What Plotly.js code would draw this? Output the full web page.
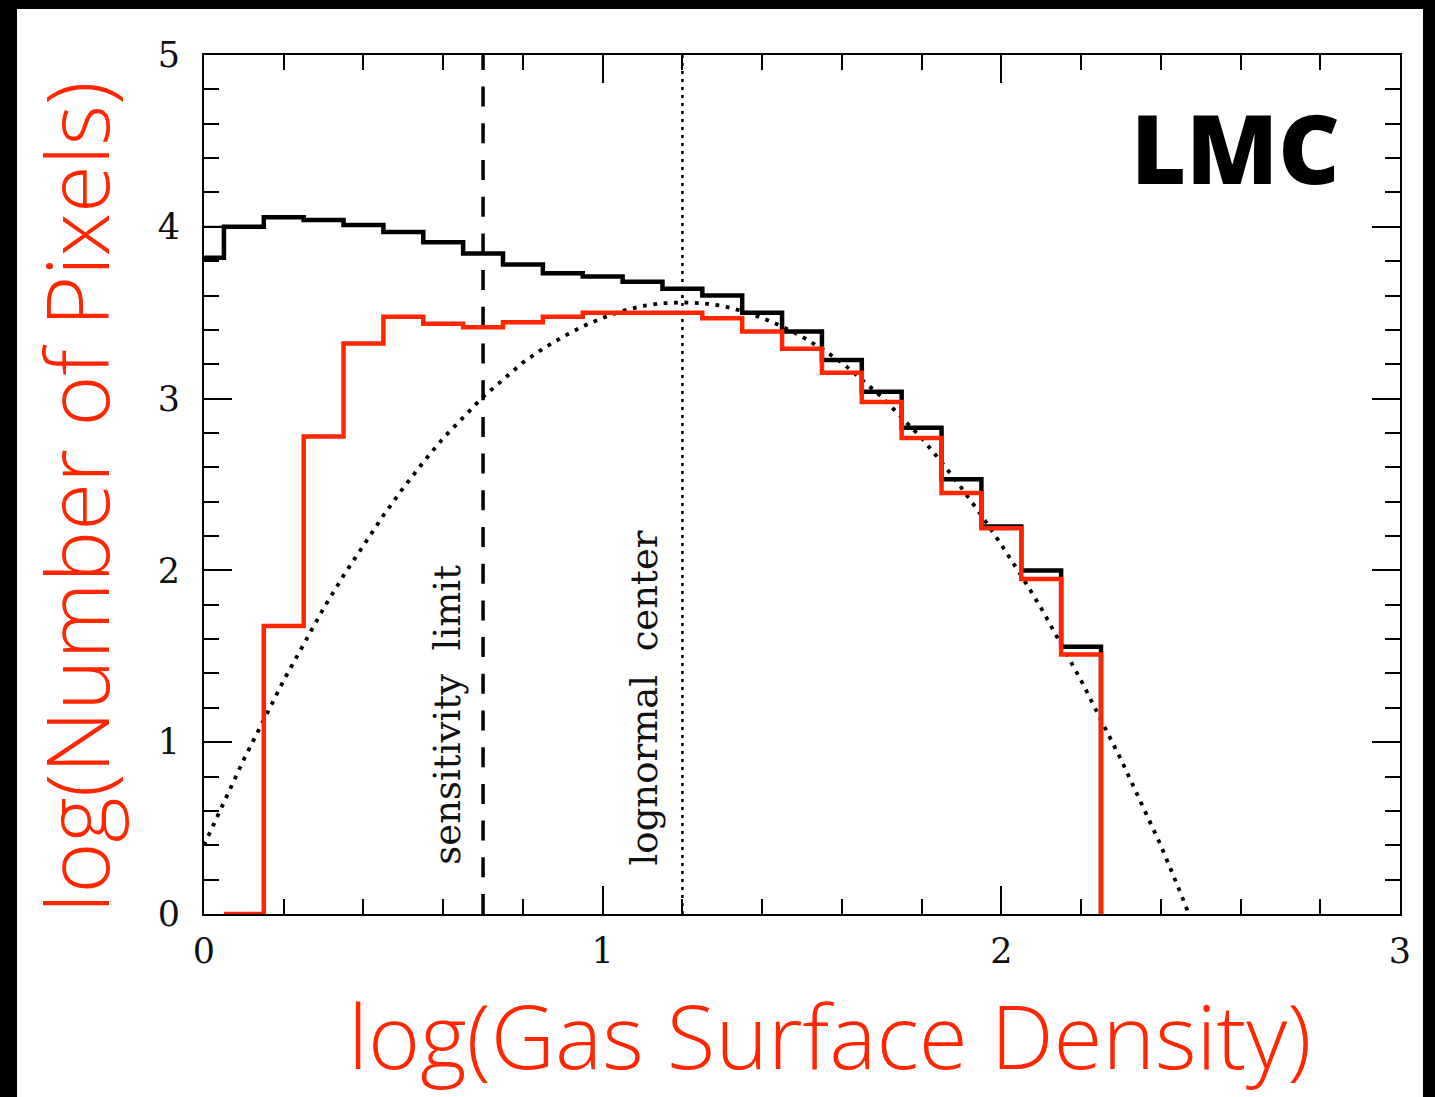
<!DOCTYPE html>
<html>
<head>
<meta charset="utf-8">
<script src="https://cdn.plot.ly/plotly-3.0.1.min.js"></script>
<style>
  html, body { margin: 0; padding: 0; background: #000; width: 1435px; height: 1097px; overflow: hidden; }
  #chart { position: absolute; left: 17px; top: 9px; width: 1406px; height: 1088px; background: #fff; }
</style>
</head>
<body>
<div id="chart"></div>
<script>
// Histogram bins: left edge of each bin, and the value (log number of pixels) in it
const allLeftEdges = [0, 0.05, 0.15, 0.25, 0.35, 0.45, 0.55, 0.65, 0.75, 0.85, 0.95, 1.05,
                      1.15, 1.25, 1.35, 1.45, 1.55, 1.65, 1.75, 1.85, 1.95, 2.05, 2.15];
const allPixels = [3.82, 4.00, 4.055, 4.04, 4.01, 3.97, 3.91, 3.845, 3.78, 3.73, 3.71, 3.68,
                   3.64, 3.60, 3.50, 3.39, 3.225, 3.04, 2.83, 2.53, 2.255, 2.00, 1.556];

const cloudLeftEdges = [0.05, 0.15, 0.25, 0.35, 0.45, 0.55, 0.65, 0.75, 0.85, 0.95, 1.05,
                        1.15, 1.25, 1.35, 1.45, 1.55, 1.65, 1.75, 1.85, 1.95, 2.05, 2.15];
const cloudPixels = [0, 1.676, 2.78, 3.32, 3.477, 3.435, 3.415, 3.445, 3.477, 3.50, 3.50,
                     3.50, 3.467, 3.39, 3.29, 3.15, 2.98, 2.77, 2.45, 2.245, 1.95, 1.51];
const lastRightEdge = 2.25;

// Lognormal fit, sampled along the gas surface density axis
const fitX = [0, 0.05, 0.1, 0.15, 0.2, 0.25, 0.3, 0.35, 0.4, 0.45, 0.5, 0.55, 0.6, 0.65, 0.7,
              0.75, 0.8, 0.85, 0.9, 0.95, 1.0, 1.05, 1.1, 1.15, 1.2, 1.25, 1.3, 1.35, 1.4, 1.45,
              1.5, 1.55, 1.6, 1.65, 1.7, 1.75, 1.8, 1.85, 1.9, 1.95, 2.0, 2.05, 2.1, 2.15, 2.2,
              2.25, 2.3, 2.35, 2.4, 2.45, 2.47];
const fitY = [0.40, 0.65, 0.90, 1.13, 1.36, 1.57, 1.78, 1.97, 2.15, 2.32, 2.48, 2.63, 2.77, 2.89, 3.01,
              3.11, 3.21, 3.29, 3.36, 3.42, 3.47, 3.51, 3.54, 3.555, 3.56, 3.555, 3.54, 3.51, 3.47, 3.42,
              3.36, 3.29, 3.21, 3.11, 3.01, 2.89, 2.77, 2.63, 2.48, 2.32, 2.15, 1.97, 1.78, 1.57, 1.36,
              1.13, 0.90, 0.65, 0.40, 0.12, 0.0];

// Reference markers
const sensitivityLimit = 0.7;
const lognormalCenter = 1.2;
const yExtent = [0, 5];

const redColor = '#ff2600';

function stepPath(edges, values, rightEdge) {
  return { x: edges.concat([rightEdge]), y: values.concat([0]) };
}

const allStep = stepPath(allLeftEdges, allPixels, lastRightEdge);
const cloudStep = stepPath(cloudLeftEdges, cloudPixels, lastRightEdge);

const traces = [
  { x: fitX, y: fitY, mode: 'lines', line: { color: '#000', width: 3.8, dash: '3.8px,6.6px' },
    cliponaxis: false, hoverinfo: 'skip' },
  { x: [sensitivityLimit, sensitivityLimit], y: yExtent, mode: 'lines',
    line: { color: '#000', width: 3.5, dash: '20px,16.7px' }, hoverinfo: 'skip' },
  { x: [lognormalCenter, lognormalCenter], y: yExtent, mode: 'lines',
    line: { color: '#000', width: 2.6, dash: '3px,5px' }, hoverinfo: 'skip' },
  { x: [allLeftEdges[0], allLeftEdges[1]], y: [allPixels[1], allPixels[1]], mode: 'lines',
    line: { color: '#000', width: 2 }, cliponaxis: false, hoverinfo: 'skip' },
  { x: allStep.x, y: allStep.y, mode: 'lines', line: { color: '#000', width: 4.5, shape: 'hv' },
    cliponaxis: false },
  { x: cloudStep.x, y: cloudStep.y, mode: 'lines', line: { color: redColor, width: 4.5, shape: 'hv' },
    cliponaxis: false }
];

const tickFont = { family: 'DejaVu Serif, serif', size: 35, color: '#111' };

const axisCommon = {
  showgrid: false, zeroline: false, showline: true, linecolor: '#000', linewidth: 2,
  mirror: 'allticks', ticks: 'inside', ticklen: 28, tickwidth: 2, tickcolor: '#000',
  dtick: 1, tick0: 0, tickfont: tickFont,
  minor: { dtick: 0.2, ticks: 'inside', ticklen: 15, tickwidth: 2, tickcolor: '#000', showgrid: false }
};

const layout = {
  width: 1406, height: 1088,
  margin: { l: 187, r: 23, t: 46, b: 183 },
  paper_bgcolor: '#fff', plot_bgcolor: '#fff',
  showlegend: false,
  xaxis: Object.assign({}, axisCommon, { range: [0, 3], ticklabelstandoff: 5 }),
  yaxis: Object.assign({}, axisCommon, { range: [0, 5], ticklabelstandoff: 15 }),
  annotations: [
    { text: 'LMC', x: 2.588, y: 4.465, xref: 'x', yref: 'y', showarrow: false,
      xanchor: 'center', yanchor: 'middle',
      font: { family: 'Open Sans, sans-serif', size: 95, weight: 800, color: '#000' } },
    { text: 'sensitivity  limit', x: 0.612, y: 1.16, xref: 'x', yref: 'y', showarrow: false,
      textangle: -90, xanchor: 'center', yanchor: 'middle',
      font: { family: 'DejaVu Serif, serif', size: 37, color: '#111' } },
    { text: 'lognormal  center', x: 1.106, y: 1.26, xref: 'x', yref: 'y', showarrow: false,
      textangle: -90, xanchor: 'center', yanchor: 'middle',
      font: { family: 'DejaVu Serif, serif', size: 37, color: '#111' } },
    { text: 'log(Gas Surface Density)', x: 0.5234, y: -0.1397, xref: 'paper', yref: 'paper',
      showarrow: false, xanchor: 'center', yanchor: 'middle',
      font: { family: 'Open Sans, sans-serif', size: 89, weight: 300, color: redColor } },
    { text: 'log(Number of Pixels)', x: -0.1078, y: 0.4854, xref: 'paper', yref: 'paper',
      showarrow: false, textangle: -90, xanchor: 'center', yanchor: 'middle',
      font: { family: 'Open Sans, sans-serif', size: 87, weight: 300, color: redColor } }
  ]
};

Plotly.newPlot('chart', traces, layout, { displayModeBar: false, staticPlot: true });
</script>
</body>
</html>
